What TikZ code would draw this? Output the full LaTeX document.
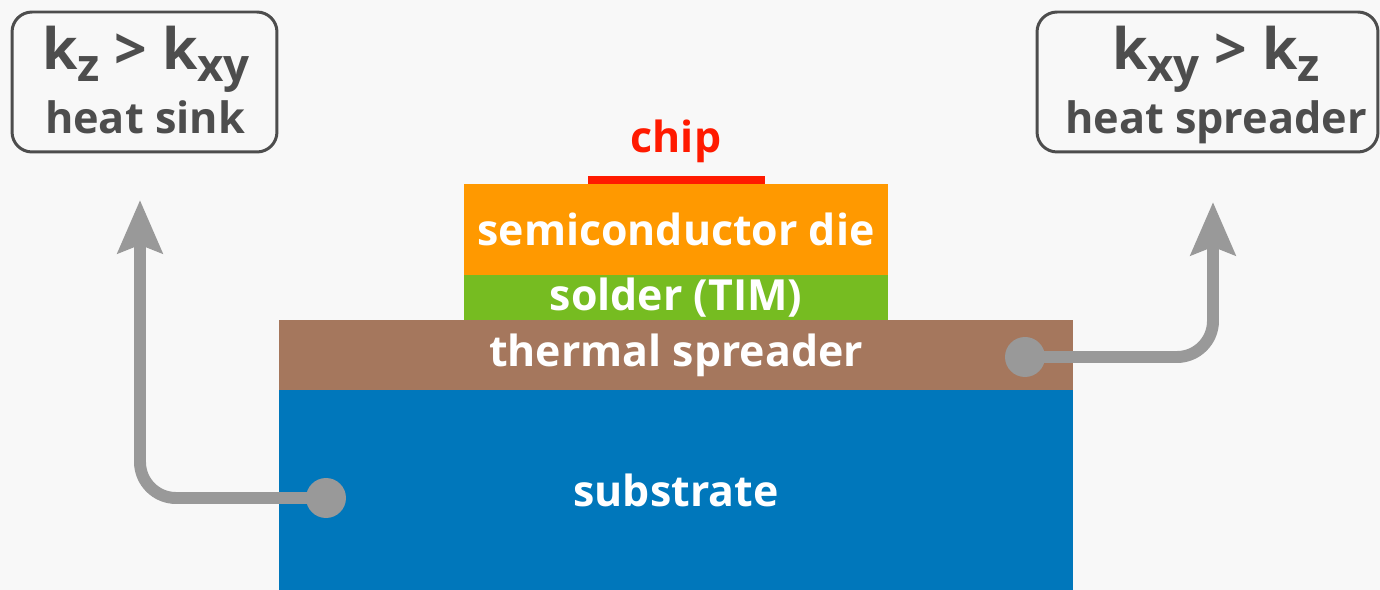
\documentclass[tikz,border=0pt]{standalone}
\usepackage{fontspec}
\setmainfont{Open Sans}
\usepackage{graphicx}
\usetikzlibrary{arrows.meta}
\definecolor{bg}{HTML}{F8F8F8}
\definecolor{subblue}{HTML}{0077BB}
\definecolor{spreadbrown}{HTML}{A5775D}
\definecolor{soldergreen}{HTML}{76BC21}
\definecolor{dieorange}{HTML}{FF9900}
\definecolor{chipred}{HTML}{FF1A00}
\definecolor{boxgray}{HTML}{4D4D4D}
\definecolor{arrgray}{HTML}{999999}
\newcommand{\sbs}[1]{\raisebox{-0.2em}{\scalebox{0.8}{#1}}}
\begin{document}
\begin{tikzpicture}[x=0.02cm,y=-0.02cm,
  layer/.style={rectangle, inner sep=0pt, text=white, font=\fontsize{24.4}{28}\selectfont\bfseries},
  kbox/.style={draw=boxgray, line width=1.7pt, rounded corners=0.4cm, inner sep=0pt},
  boxtxt/.style={text=boxgray, inner sep=0pt, anchor=base},
  dot/.style={circle, fill=arrgray, minimum size=0.8cm, inner sep=0pt},
  flow/.style={draw=arrgray, line width=6.8pt, rounded corners=0.72cm, -{Stealth[width=25pt,length=30pt,inset=4.5pt]}}]
\fill[bg] (0,0) rectangle (1380,590);
\useasboundingbox (0,0) rectangle (1380,590);
% layers
\node[layer, fill=subblue, minimum width=15.88cm, minimum height=4cm] (sub) at (676,490) {substrate};
\node[layer, fill=spreadbrown, minimum width=15.88cm, minimum height=1.4cm] (spr) at (676,355) {thermal spreader};
\node[layer, fill=soldergreen, minimum width=8.48cm, minimum height=0.9cm] (sol) at (676,297.5) {solder (TIM)};
\node[layer, fill=dieorange, minimum width=8.48cm, minimum height=1.82cm] (die) at (676,229.5) {semiconductor die};
\node[rectangle, fill=chipred, minimum width=3.54cm, minimum height=0.16cm, inner sep=0pt] (chip) at (676.5,180) {};
\node[text=chipred, font=\fontsize{24.4}{28}\selectfont\bfseries, anchor=base, inner sep=0pt] (chiplbl) at (676,153) {chip};
% boxes
\node[kbox, minimum width=5.3cm, minimum height=2.8cm] (bl) at (144.5,82) {};
\node[boxtxt, font=\fontsize{32.5}{38}\selectfont\bfseries] (bl1) at (146,70) {k\sbs{z} > k\sbs{xy}};
\node[boxtxt, font=\fontsize{24.6}{29}\selectfont\bfseries] (bl2) at (145,134) {heat sink};
\node[kbox, minimum width=6.82cm, minimum height=2.8cm] (br) at (1207.5,82) {};
\node[boxtxt, font=\fontsize{32.5}{38}\selectfont\bfseries] (br1) at (1216,70) {k\sbs{xy} > k\sbs{z}};
\node[boxtxt, font=\fontsize{24.6}{29}\selectfont\bfseries] (br2) at (1216,134) {heat spreader};
% arrows
\coordinate (tipL) at (140,200);
\coordinate (tipR) at (1213,202);
\node[dot] (dL) at (326,498) {};
\node[dot] (dR) at (1025,357) {};
\draw[flow] (dL.center) -| (tipL);
\draw[flow] (dR.center) -| (tipR);
\end{tikzpicture}
\end{document}
